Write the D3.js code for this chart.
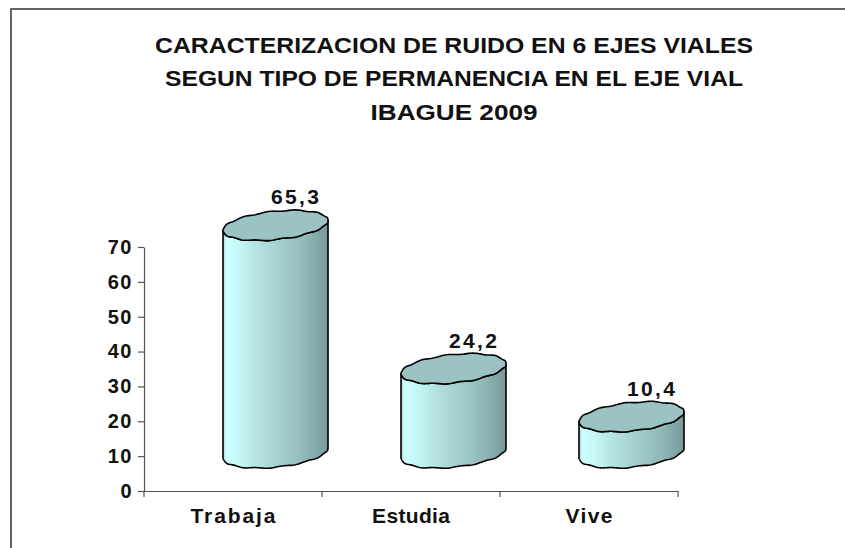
<!DOCTYPE html>
<html>
<head>
<meta charset="utf-8">
<script src="https://cdn.jsdelivr.net/npm/d3@7"></script>
<style>
  body { margin: 0; background: #ffffff; }
  svg { display: block; font-family: "Liberation Sans", Arial, sans-serif; }
</style>
</head>
<body>
<script>
// ---- data ----
const categories = ["Trabaja", "Estudia", "Vive"];
const values = [65.3, 24.2, 10.4];
const valueLabels = ["65,3", "24,2", "10,4"];
const yTicks = [0, 10, 20, 30, 40, 50, 60, 70];
const titleLines = [
  "CARACTERIZACION DE RUIDO EN 6 EJES VIALES",
  "SEGUN TIPO DE PERMANENCIA EN EL EJE VIAL",
  "IBAGUE 2009"
];

const W = 845, H = 548;
const svg = d3.select("body").append("svg").attr("width", W).attr("height", H);

// chart border (extends beyond the visible area on right/bottom)
svg.append("rect").attr("x", 11).attr("y", 9).attr("width", 900).attr("height", 600)
  .attr("fill", "#fff").attr("stroke", "#333").attr("stroke-width", 1.5);

// title
const titleWidths = [598, 578, 167];
const titleBase = [52.5, 86, 119.5];
titleLines.forEach((t, i) => {
  svg.append("text").attr("x", 454).attr("y", titleBase[i])
    .attr("text-anchor", "middle").attr("font-weight", "bold").attr("font-size", 22)
    .attr("textLength", titleWidths[i]).attr("lengthAdjust", "spacingAndGlyphs")
    .attr("fill", "#111").text(t);
});

// scales
const x = d3.scaleBand().domain(categories).range([144, 678]);
const y = d3.scaleLinear().domain([0, 70]).range([491, 247]);

// gradient for cylinder body
const defs = svg.append("defs");
const grad = defs.append("linearGradient").attr("id", "body").attr("x1", 0).attr("x2", 1).attr("y1", 0).attr("y2", 0);
[[0, "#a8d0d0"], [0.03, "#ccffff"], [0.12, "#c8fafa"], [0.3, "#b7e5e5"], [0.5, "#a8d2d2"],
 [0.68, "#9ac2c2"], [0.82, "#8db3b3"], [0.92, "#81a5a5"], [1, "#779899"]]
  .forEach(([o, c]) => grad.append("stop").attr("offset", o).attr("stop-color", c));

// cylinders
const R = 52.5, P = -5, Q = 14.2, DX = 42.5, DY = 38;
function pt(t, cx, cy) {
  return [cx + R * Math.cos(t), cy + P * Math.cos(t) + Q * Math.sin(t) + 0.5 * Math.sin(12 * t)];
}
const N = 96;
categories.forEach((c, i) => {
  const cx = x(c) + x.bandwidth() / 2 + DX;
  const yb = y(0) - DY;
  const yt = y(values[i]) - DY;
  const body = [];
  body.push(pt(Math.PI, cx, yt));
  for (let k = 0; k <= N; k++) body.push(pt(Math.PI - Math.PI * k / N, cx, yb));
  for (let k = 0; k <= N; k++) body.push(pt(Math.PI * k / N, cx, yt));
  svg.append("path").attr("d", d3.line()(body) + "Z")
    .attr("fill", "url(#body)").attr("stroke", "#000").attr("stroke-width", 1.6)
    .attr("stroke-linejoin", "round");
  const top = [];
  for (let k = 0; k <= 2 * N; k++) top.push(pt(2 * Math.PI * k / (2 * N), cx, yt));
  svg.append("path").attr("d", d3.line()(top) + "Z")
    .attr("fill", "#9cc3c3").attr("stroke", "#000").attr("stroke-width", 1.6)
    .attr("stroke-linejoin", "round");
  // value label
  svg.append("text").attr("x", x(c) + x.bandwidth() / 2 + 62).attr("y", yt - 21)
    .attr("text-anchor", "middle").attr("font-weight", "bold").attr("font-size", 21)
    .attr("textLength", 48).attr("lengthAdjust", "spacing")
    .attr("fill", "#111").text(valueLabels[i]);
});

// y axis
const yAxis = svg.append("g").attr("transform", "translate(144,0)")
  .call(d3.axisLeft(y).tickValues(yTicks).tickSize(6).tickSizeOuter(0).tickPadding(5));
yAxis.select(".domain").attr("stroke", "#555").attr("stroke-width", 1.2);
yAxis.selectAll(".tick line").attr("stroke", "#555").attr("stroke-width", 1.2);
yAxis.selectAll("text").attr("font-size", 20).attr("font-weight", "bold")
  .attr("letter-spacing", 1.5).attr("fill", "#111").attr("font-family", "Liberation Sans, Arial, sans-serif");

// x axis
const xAxis = svg.append("g").attr("transform", "translate(0,491)")
  .call(d3.axisBottom(x).tickSize(0).tickSizeOuter(0));
xAxis.select(".domain").attr("stroke", "#555").attr("stroke-width", 1.2);
const labelWidths = [85, 78, 47];
xAxis.selectAll("text").attr("dy", null).attr("y", 32).attr("font-size", 21)
  .attr("font-weight", "bold").attr("fill", "#111")
  .attr("textLength", (d, i) => labelWidths[i]).attr("lengthAdjust", "spacing")
  .attr("font-family", "Liberation Sans, Arial, sans-serif");
const bounds = [x.range()[0]].concat(categories.map(c => x(c) + x.bandwidth()));
xAxis.selectAll(".cat-tick").data(bounds).enter().append("line")
  .attr("x1", d => d).attr("x2", d => d).attr("y1", 0).attr("y2", 6)
  .attr("stroke", "#555").attr("stroke-width", 1.2);
</script>
</body>
</html>
